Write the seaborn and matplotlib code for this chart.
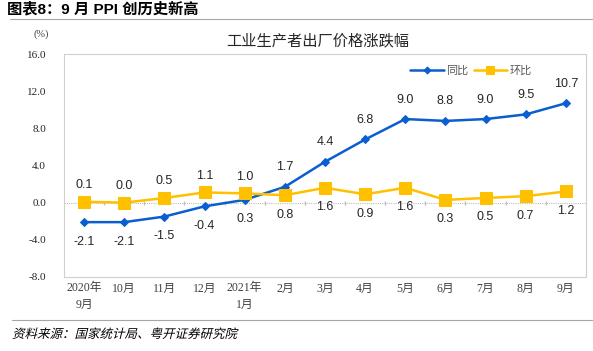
import matplotlib
matplotlib.use("Agg")
import matplotlib.pyplot as plt
import numpy as np
import pandas as pd
import seaborn as sns
from matplotlib.textpath import TextPath
from matplotlib.patches import PathPatch
from matplotlib.font_manager import FontProperties
from matplotlib.transforms import Affine2D, IdentityTransform

#%% Data
months = ['2020年\n9月', '10月', '11月', '12月', '2021年\n1月', '2月', '3月',
          '4月', '5月', '6月', '7月', '8月', '9月']
yoy = [-2.1, -2.1, -1.5, -0.4, 0.3, 1.7, 4.4, 6.8, 9.0, 8.8, 9.0, 9.5, 10.7]   # 同比
mom = [0.1, 0.0, 0.5, 1.1, 1.0, 0.8, 1.6, 0.9, 1.6, 0.3, 0.5, 0.7, 1.2]       # 环比
yticks = [-8, -4, 0, 4, 8, 12, 16]

blue = '#0A5ED0'
yellow = '#FFC000'

data = pd.DataFrame({'idx': np.arange(len(months)), 'yoy': yoy, 'mom': mom})

#%% Figure
sns.set_style("white")
cjk = ['Liberation Sans', 'Noto Sans CJK SC', 'DejaVu Sans']
tickfont = ['Liberation Serif', 'Noto Sans CJK SC', 'DejaVu Sans']
plt.rcParams['font.family'] = cjk

fig = plt.figure(figsize=(5.93, 3.51), dpi=100)
ax = fig.add_axes([0.108, 0.211, 0.880, 0.635])

sns.lineplot(data=data, x='idx', y='yoy', ax=ax, color=blue, linewidth=1.8,
             marker='D', markersize=4.5, markeredgecolor=blue, label='同比')
sns.lineplot(data=data, x='idx', y='mom', ax=ax, color=yellow, linewidth=1.8,
             marker='s', markersize=8, markeredgecolor=yellow, label='环比')

# data labels: first five months 环比 above / 同比 below, then swapped
for i in range(len(months)):
    up = i >= 5
    ax.annotate(f'{yoy[i]:.1f}', (i, yoy[i]), xytext=(0, 14 if up else -14),
                textcoords='offset points', ha='center', va='center',
                fontsize=9, color='#262626')
    ax.annotate(f'{mom[i]:.1f}', (i, mom[i]), xytext=(0, -14 if up else 12),
                textcoords='offset points', ha='center', va='center',
                fontsize=9, color='#262626')

# zero line with small category ticks
ax.axhline(0, color='#bfbfbf', linewidth=0.8, linestyle=(0, (1, 1)), zorder=0)
bounds = np.arange(len(months) - 1) + 0.5
ax.plot(bounds, np.zeros(len(bounds)), linestyle='none', marker='|',
        markersize=3, color='#bfbfbf', zorder=0)

ax.set_xlim(-0.5, len(months) - 0.5)
ax.set_ylim(-8, 16)
ax.set_yticks(yticks)
ax.set_yticklabels([f'{v:.1f}' for v in yticks], fontsize=8, family=tickfont,
                   color='#262626')
ax.set_xticks(np.arange(len(months)))
ax.set_xticklabels(months, fontsize=8.5, family=tickfont, color='#404040',
                   linespacing=1.5)
ax.tick_params(axis='x', length=0, pad=4)
ax.tick_params(axis='y', length=3, color='#d0d0d0', pad=10)
ax.set_xlabel('')
ax.set_ylabel('')

for s in ax.spines.values():
    s.set_color('#d0d0d0')
    s.set_linewidth(0.8)
    s.set_linestyle((0, (1, 1)))

leg = ax.legend(loc='upper left', bbox_to_anchor=(0.655, 0.97), ncol=2,
                frameon=False, fontsize=8, handlelength=3.0, columnspacing=0.5,
                handletextpad=0.2, borderaxespad=0)
for t in leg.get_texts():
    t.set_color('#595959')
leg.legend_handles[0].set_markersize(3.5)
leg.legend_handles[1].set_markersize(5.5)

#%% Texts
fig.text(0.012, 0.975, '图表8：9 月 PPI 创历史新高', fontsize=11, fontweight='bold',
         ha='left', va='center', color='black')
fig.add_artist(plt.Line2D([0.017, 1.0], [0.946, 0.946], color='#a6a6a6', linewidth=0.8))
fig.text(0.535, 0.884, '工业生产者出厂价格涨跌幅', fontsize=11, ha='center',
         va='center', color='#262626')
fig.text(0.07, 0.903, '(%)', fontsize=7.5, ha='center', va='center',
         family=tickfont, color='#404040')
fig.add_artist(plt.Line2D([0.02, 1.0], [0.088, 0.088], color='#a6a6a6', linewidth=0.8))

# source note in italics: the CJK font has no italic face, so shear the glyph outlines
src = '资料来源：国家统计局、粤开证券研究院'
tp = TextPath((0, 0), src, size=12.5, prop=FontProperties(family=['Noto Sans CJK SC']))
shear = Affine2D().skew_deg(14, 0).translate(12, 351 - 338)
fig.add_artist(PathPatch(shear.transform_path(tp), color='black', lw=0,
                         transform=IdentityTransform()))

fig.savefig('out.png', dpi=100)
